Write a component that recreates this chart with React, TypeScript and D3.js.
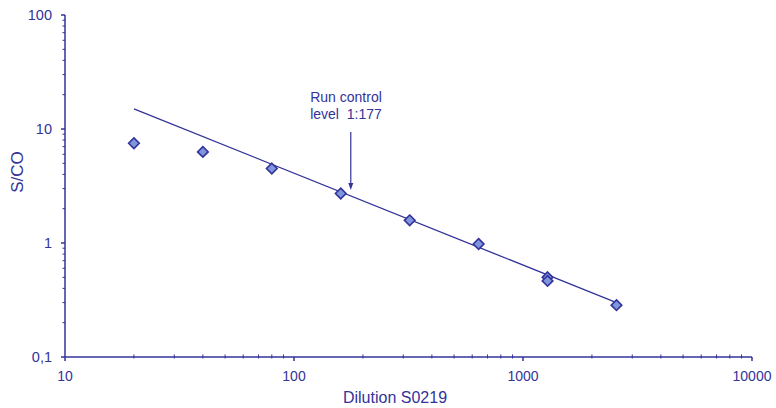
import React from "react";
import * as d3 from "d3";

const dilutions = [20, 40, 80, 160, 320, 640, 1280, 1280, 2560];
const scoValues = [7.5, 6.3, 4.5, 2.72, 1.58, 0.98, 0.5, 0.465, 0.285];
const fitX = [20, 2560];
const fitY = [15, 0.3];
const xMajor = [10, 100, 1000, 10000];
const yMajor = [0.1, 1, 10, 100];
const yLabels = ["0,1", "1", "10", "100"];
const controlDilution = 177;
const annotationLines = ["Run control", "level  1:177"];

const W = 776;
const H = 408;
const C = "#333399";
const FONT = "Arial, 'Liberation Sans', sans-serif";

export default function App() {
  const x = d3.scaleLog().domain([10, 10000]).range([65, 752]);
  const y = d3.scaleLog().domain([0.1, 100]).range([357, 15]);

  const minorX: number[] = [];
  for (let d = 10; d < 10000; d *= 10) for (let k = 2; k <= 9; k++) minorX.push(d * k);
  const minorY: number[] = [];
  for (let d = 0.1; d < 100; d *= 10) for (let k = 2; k <= 9; k++) minorY.push(d * k);

  const line = d3.line<number>().x((_, i) => x(fitX[i])).y((v) => y(v));
  const diamond = d3.symbol().type(d3.symbolDiamond2).size(72)();

  const ax = x(controlDilution);

  return (
    <svg width={W} height={H} style={{ position: "absolute", left: 0, top: 0 }} fontFamily={FONT}>
      <rect width={W} height={H} fill="#fff" />
      {/* axes */}
      <line x1={65} x2={65} y1={y(100)} y2={y(0.1)} stroke={C} strokeWidth={1.5} />
      <line x1={65} x2={x(10000)} y1={y(0.1)} y2={y(0.1)} stroke={C} strokeWidth={1.5} />
      {yMajor.map((v) => (
        <line key={"ym" + v} x1={61} x2={65} y1={y(v)} y2={y(v)} stroke={C} strokeWidth={1.5} />
      ))}
      {minorY.map((v, i) => (
        <line key={"yn" + i} x1={62.5} x2={65} y1={y(v)} y2={y(v)} stroke={C} strokeWidth={1} />
      ))}
      {xMajor.map((v) => (
        <line key={"xm" + v} x1={x(v)} x2={x(v)} y1={y(0.1)} y2={y(0.1) + 4} stroke={C} strokeWidth={1.5} />
      ))}
      {minorX.map((v, i) => (
        <line key={"xn" + i} x1={x(v)} x2={x(v)} y1={y(0.1) - 2.5} y2={y(0.1) + 1.5} stroke={C} strokeWidth={1} />
      ))}
      {yMajor.map((v, i) => (
        <text key={"yl" + v} x={52} y={y(v) + 5} textAnchor="end" fontSize={14.5} fill={C}>
          {yLabels[i]}
        </text>
      ))}
      {xMajor.map((v) => (
        <text key={"xl" + v} x={x(v)} y={381} textAnchor="middle" fontSize={14} fill={C}>
          {v}
        </text>
      ))}
      <text x={395} y={403} textAnchor="middle" fontSize={16} fill={C}>
        Dilution S0219
      </text>
      <text transform="translate(23,172) rotate(-90)" textAnchor="middle" fontSize={17} fill={C}>
        S/CO
      </text>
      {/* fit line */}
      <path d={line(fitY) || ""} fill="none" stroke={C} strokeWidth={1.3} />
      {/* points */}
      {dilutions.map((d, i) => (
        <path
          key={"p" + i}
          d={diamond || ""}
          transform={`translate(${x(d)},${y(scoValues[i])})`}
          fill="#7f95dc"
          stroke={C}
          strokeWidth={1.6}
        />
      ))}
      {/* annotation */}
      {annotationLines.map((t, i) => (
        <text
          key={"a" + i}
          x={346}
          y={102 + i * 17}
          textAnchor="middle"
          fontSize={14}
          fill={C}
          style={{ whiteSpace: "pre" }}
          xmlSpace="preserve"
        >
          {t}
        </text>
      ))}
      <line x1={ax} x2={ax} y1={132} y2={184} stroke={C} strokeWidth={1.2} />
      <path d={`M${ax - 2.5},183 L${ax + 2.5},183 L${ax},190 Z`} fill={C} />
    </svg>
  );
}
